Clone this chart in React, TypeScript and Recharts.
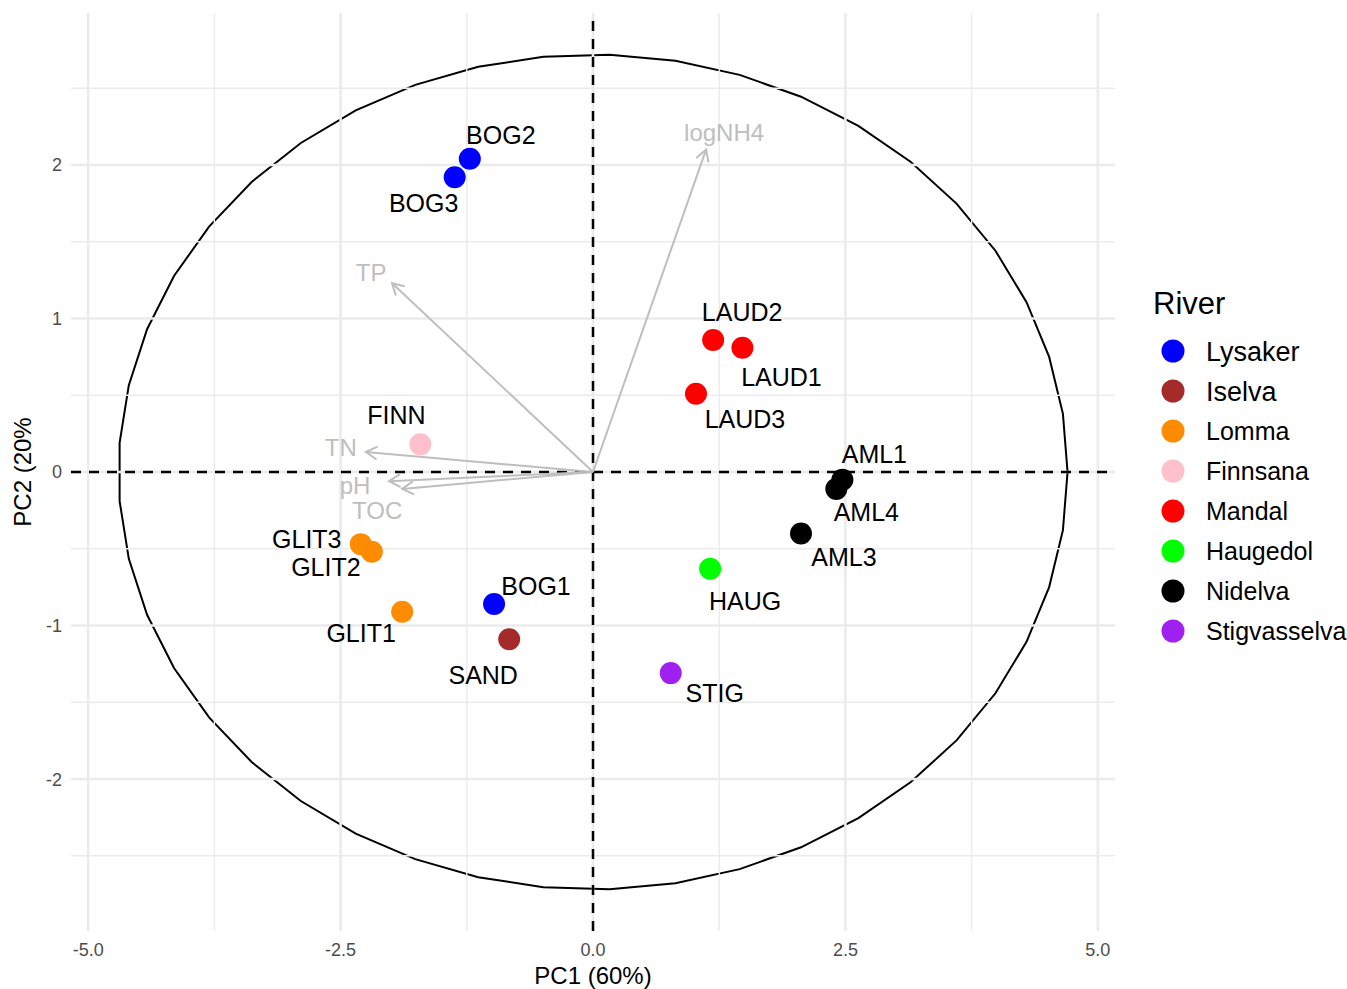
import React from 'react';
import {
  ScatterChart, Scatter, XAxis, YAxis, ReferenceLine, ReferenceArea, Legend
} from 'recharts';

// sample scores (PC1 / PC2)
const SAMPLES = ['BOG1', 'BOG2', 'BOG3', 'SAND', 'GLIT1', 'GLIT2', 'GLIT3', 'FINN', 'LAUD1', 'LAUD2', 'LAUD3', 'HAUG', 'AML1', 'AML3', 'AML4', 'STIG'];
const SAMPLE_RIVER = ['Lysaker', 'Lysaker', 'Lysaker', 'Iselva', 'Lomma', 'Lomma', 'Lomma', 'Finnsana', 'Mandal', 'Mandal', 'Mandal', 'Haugedol', 'Nidelva', 'Nidelva', 'Nidelva', 'Stigvasselva'];
const PC1 = [-0.98, -1.22, -1.37, -0.83, -1.89, -2.19, -2.30, -1.71, 1.48, 1.19, 1.02, 1.16, 2.47, 2.06, 2.41, 0.77];
const PC2 = [-0.86, 2.04, 1.92, -1.09, -0.91, -0.52, -0.47, 0.18, 0.81, 0.86, 0.51, -0.63, -0.05, -0.40, -0.11, -1.31];

// variable loadings (arrows)
const VARIABLES = ['logNH4', 'TP', 'TN', 'pH', 'TOC'];
const LOAD_PC1 = [1.12, -1.99, -2.25, -2.02, -1.89];
const LOAD_PC2 = [2.10, 1.23, 0.13, -0.06, -0.11];

const RIVERS = ['Lysaker', 'Iselva', 'Lomma', 'Finnsana', 'Mandal', 'Haugedol', 'Nidelva', 'Stigvasselva'];
const RIVER_COLORS = ['#0000FF', '#A52A2A', '#FF8C00', '#FFC0CB', '#FF0000', '#00FF00', '#000000', '#A020F0'];

// correlation circle radii in axis units
const CIRCLE_R_PC1 = 4.7;
const CIRCLE_R_PC2 = 2.72;

const X_MAJOR = [-5, -2.5, 0, 2.5, 5];
const X_MINOR = [-3.75, -1.25, 1.25, 3.75];
const Y_MAJOR = [-2, -1, 0, 1, 2];
const Y_MINOR = [-2.5, -1.5, -0.5, 0.5, 1.5, 2.5];

// repelled label offsets in px (text centre relative to point)
const LABEL_OFFSET: Record<string, [number, number]> = {
  BOG1: [42, -18], BOG2: [31, -24], BOG3: [-31, 26], SAND: [-26, 36],
  GLIT1: [-41, 21], GLIT2: [-46, 15], GLIT3: [-54, -5], FINN: [-24, -29],
  LAUD1: [39, 29], LAUD2: [29, -28], LAUD3: [49, 25], HAUG: [35, 32],
  AML1: [32, -26], AML3: [43, 24], AML4: [30, 23], STIG: [44, 20],
};
const ARROW_LABEL_OFFSET: Record<string, [number, number]> = {
  logNH4: [18, -17], TP: [-21, -11], TN: [-25, -5], pH: [-34, 4], TOC: [-25, 21],
};

const FONT = '"Liberation Sans", Arial, Helvetica, sans-serif';
const ARROW_COLOR = '#BEBEBE';
const GRID = '#EBEBEB';

const samples = SAMPLES.map((name, i) => ({ name, river: SAMPLE_RIVER[i], pc1: PC1[i], pc2: PC2[i] }));

const EllipseShape = (props: any) => {
  const { x, y, width, height } = props;
  const cx = x + width / 2;
  const cy = y + height / 2;
  const n = 45;
  const pts: string[] = [];
  for (let k = 0; k <= n; k++) {
    const a = (k / n) * Math.PI * 2;
    pts.push(`${cx + (width / 2) * Math.cos(a)},${cy + (height / 2) * Math.sin(a)}`);
  }
  return <polyline points={pts.join(' ')} fill="none" stroke="#000" strokeWidth={2} />;
};

const makeArrow = (label: string) => (props: any) => {
  const { x1, y1, x2, y2 } = props;
  const ang = Math.atan2(y2 - y1, x2 - x1);
  const len = 13;
  const spread = Math.PI / 6;
  const ax1 = x2 - len * Math.cos(ang - spread);
  const ay1 = y2 - len * Math.sin(ang - spread);
  const ax2 = x2 - len * Math.cos(ang + spread);
  const ay2 = y2 - len * Math.sin(ang + spread);
  const [dx, dy] = ARROW_LABEL_OFFSET[label];
  return (
    <g>
      <line x1={x1} y1={y1} x2={x2} y2={y2} stroke={ARROW_COLOR} strokeWidth={2} />
      <polyline points={`${ax1},${ay1} ${x2},${y2} ${ax2},${ay2}`} fill="none" stroke={ARROW_COLOR} strokeWidth={2} />
      <text x={x2 + dx} y={y2 + dy} dy="0.36em" textAnchor="middle" fontSize={24} fill={ARROW_COLOR} fontFamily={FONT}>
        {label}
      </text>
    </g>
  );
};

const XTick = (props: any) => {
  const { x, y, payload } = props;
  return (
    <text x={x} y={y + 25} textAnchor="middle" fontSize={18} fill="#4D4D4D" fontFamily={FONT}>
      {payload.value.toFixed(1)}
    </text>
  );
};

const YTick = (props: any) => {
  const { x, y, payload } = props;
  return (
    <text x={x - 9} y={y} dy="0.36em" textAnchor="end" fontSize={18} fill="#4D4D4D" fontFamily={FONT}>
      {payload.value}
    </text>
  );
};

const LegendBox = () => (
  <svg width={217} height={370} style={{ display: 'block' }}>
    <text x={23} y={34} fontSize={31} fill="#000" fontFamily={FONT}>River</text>
    {RIVERS.map((r, i) => (
      <g key={r}>
        <circle cx={43} cy={71 + i * 40} r={11.5} fill={RIVER_COLORS[i]} />
        <text x={76} y={71 + i * 40} dy="0.36em" fontSize={i < 2 ? 27 : 25} fill="#000" fontFamily={FONT}>{r}</text>
      </g>
    ))}
  </svg>
);

export default function App() {
  return (
    <div style={{ position: 'absolute', left: 0, top: 0, width: 1347, height: 989, background: '#fff', fontFamily: FONT }}>
      <ScatterChart width={1347} height={989} margin={{ top: 13, right: 232, bottom: 0, left: 0 }}>
        <XAxis
          type="number"
          dataKey="pc1"
          domain={[-5.17, 5.17]}
          allowDataOverflow
          ticks={X_MAJOR}
          interval={0}
          tick={<XTick />}
          tickSize={0}
          tickMargin={0}
          axisLine={false}
          tickLine={false}
          height={58}
          label={{ value: 'PC1 (60%)', position: 'insideBottom', offset: 5, fill: '#000', fontSize: 24, fontFamily: FONT }}
        />
        <YAxis
          type="number"
          dataKey="pc2"
          domain={[-2.99, 2.99]}
          allowDataOverflow
          ticks={Y_MAJOR}
          interval={0}
          tick={<YTick />}
          tickSize={0}
          tickMargin={0}
          axisLine={false}
          tickLine={false}
          width={71}
          label={{
            value: 'PC2 (20%',
            content: (p: any) => {
              const vb = p.viewBox;
              const cy = vb.y + vb.height / 2;
              return (
                <text transform={`translate(31, ${cy}) rotate(-90)`} textAnchor="middle" fontSize={24} fill="#000" fontFamily={FONT}>
                  PC2 (20%
                </text>
              );
            },
          }}
        />
        {X_MINOR.map((v) => <ReferenceLine key={`xm${v}`} x={v} stroke={GRID} strokeWidth={1.4} />)}
        {Y_MINOR.map((v) => <ReferenceLine key={`ym${v}`} y={v} stroke={GRID} strokeWidth={1.4} />)}
        {X_MAJOR.map((v) => <ReferenceLine key={`xM${v}`} x={v} stroke={GRID} strokeWidth={2.6} />)}
        {Y_MAJOR.map((v) => <ReferenceLine key={`yM${v}`} y={v} stroke={GRID} strokeWidth={2.6} />)}
        <ReferenceArea
          x1={-CIRCLE_R_PC1}
          x2={CIRCLE_R_PC1}
          y1={-CIRCLE_R_PC2}
          y2={CIRCLE_R_PC2}
          ifOverflow="visible"
          shape={<EllipseShape />}
        />
        <ReferenceLine x={0} stroke="#000" strokeWidth={2.5} strokeDasharray="10 8" />
        <ReferenceLine y={0} stroke="#000" strokeWidth={2.5} strokeDasharray="10 8" />
        {VARIABLES.map((v, i) => (
          <ReferenceLine
            key={v}
            segment={[{ x: 0, y: 0 }, { x: LOAD_PC1[i], y: LOAD_PC2[i] }]}
            ifOverflow="visible"
            shape={makeArrow(v)}
          />
        ))}
        {RIVERS.map((r, i) => (
          <Scatter
            key={r}
            name={r}
            data={samples.filter((s) => s.river === r)}
            fill={RIVER_COLORS[i]}
            isAnimationActive={false}
            shape={(p: any) => <circle cx={p.cx} cy={p.cy} r={11} fill={RIVER_COLORS[i]} />}
          />
        ))}
        <Scatter
          name="labels"
          data={samples}
          isAnimationActive={false}
          legendType="none"
          shape={(p: any) => {
            const [dx, dy] = LABEL_OFFSET[p.payload.name];
            return (
              <text x={p.cx + dx} y={p.cy + dy} dy="0.36em" textAnchor="middle" fontSize={25} fill="#000" fontFamily={FONT}>
                {p.payload.name}
              </text>
            );
          }}
        />
        <Legend
          layout="horizontal"
          verticalAlign="middle"
          align="center"
          wrapperStyle={{ left: 1130, top: 280, width: 217, height: 370 }}
          content={() => <LegendBox />}
        />
      </ScatterChart>
    </div>
  );
}
